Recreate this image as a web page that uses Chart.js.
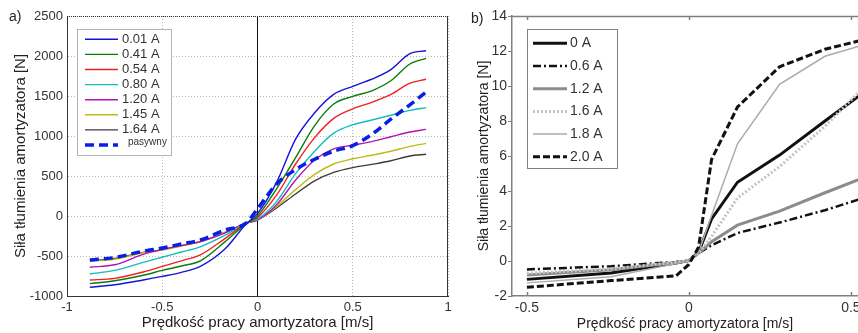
<!DOCTYPE html>
<html>
<head>
<meta charset="utf-8">
<script src="https://cdn.jsdelivr.net/npm/chart.js@4.4.1/dist/chart.umd.min.js"></script>
<style>
  html, body { margin: 0; padding: 0; background: #fff; overflow: hidden; }
  body { width: 858px; height: 333px; position: relative; }
  #boxA { position: absolute; left: 0; top: 0; width: 460px; height: 333px; }
  #boxB { position: absolute; left: 430px; top: 0; width: 440px; height: 333px; }
  .tag { position: absolute; font: 14px "Liberation Sans", Arial, sans-serif; color: #222; }
</style>
</head>
<body>
<div id="boxA"><canvas id="chartA"></canvas></div>
<div id="boxB"><canvas id="chartB"></canvas></div>
<div class="tag" style="left:9px; top:8px;">a)</div>
<div class="tag" style="left:471px; top:10px;">b)</div>
<script>
// ---- a) sila tlumienia, rozne prady ----
const xsA = [-0.88, -0.75, -0.6, -0.5, -0.4, -0.3, -0.17, -0.06, 0, 0.1, 0.2, 0.3, 0.4, 0.5, 0.6, 0.7, 0.8, 0.885]
const labelsA = ['0.01 A', '0.41 A', '0.54 A', '0.80 A', '1.20 A', '1.45 A', '1.64 A', 'pasywny']
const colorsA = ['#1414d8', '#0a7d0a', '#f02020', '#14bcbc', '#b414b4', '#bcbc14', '#3c3c3c', '#0a1ee6']
const i001 = [-890, -860, -800, -755, -705, -630, -410, -100, 30, 420, 960, 1290, 1520, 1620, 1710, 1830, 2030, 2065]
const i041 = [-845, -810, -740, -680, -625, -560, -320, -95, 0, 340, 730, 1130, 1400, 1495, 1565, 1690, 1900, 1970]
const i054 = [-800, -780, -700, -630, -560, -485, -280, -90, -20, 260, 650, 980, 1220, 1340, 1420, 1520, 1660, 1710]
const i080 = [-725, -680, -580, -515, -450, -385, -240, -90, -40, 180, 530, 810, 1035, 1140, 1200, 1260, 1320, 1355]
const i120 = [-640, -610, -480, -420, -370, -320, -210, -90, -50, 140, 450, 700, 840, 885, 930, 990, 1050, 1083]
const i145 = [-565, -540, -460, -425, -375, -320, -205, -90, -50, 120, 330, 520, 650, 715, 760, 810, 870, 908]
const i164 = [-560, -530, -455, -420, -370, -320, -205, -90, -50, 100, 275, 440, 545, 605, 645, 690, 750, 771]
const pasywny = [-550, -520, -440, -400, -350, -300, -175, -90, 90, 400, 580, 710, 810, 880, 1020, 1210, 1390, 1550]
const xTicksA = [-1, -0.5, 0, 0.5, 1]
const yTicksA = [-1000, -500, 0, 500, 1000, 1500, 2000, 2500]

// ---- b) ----
const xsB = [-0.5, -0.24, -0.04, 0, 0.03, 0.07, 0.15, 0.28, 0.42, 0.53]
const labelsB = ['0 A', '0.6 A', '1.2 A', '1.6 A', '1.8 A', '2.0 A']
const b00 = [-1.05, -0.68, -0.12, 0.02, 0.5, 2.4, 4.5, 6.05, 8.0, 9.5]
const b06 = [-0.48, -0.3, -0.05, 0.02, 0.45, 0.9, 1.6, 2.2, 2.9, 3.55]
const b12 = [-0.8, -0.5, -0.08, 0.02, 0.45, 1.1, 2.05, 2.85, 3.9, 4.7]
const b16 = [-0.7, -0.45, -0.07, 0.02, 0.45, 1.4, 3.6, 5.4, 7.7, 9.75]
const b18 = [-1.25, -0.9, -0.15, 0.02, 0.5, 2.6, 6.7, 10.1, 11.7, 12.3]
const b20 = [-1.5, -1.12, -0.85, -0.2, 0.8, 5.8, 8.8, 11.1, 12.1, 12.6]
const xTicksB = [-0.5, 0, 0.5]
const yTicksB = [-2, 0, 2, 4, 6, 8, 10, 12, 14]

const FONT = "'Liberation Sans', Arial, sans-serif"
Chart.defaults.font.family = FONT
Chart.defaults.animation = false

function pts(xs, ys) {
    return xs.map((x, i) => ({ x: x, y: ys[i] }))
}

// etykiety bez separatora tysiecy, jak w matlabie
const plain = v => String(v)

// legenda w ramce, rysowana na canvasie
const boxLegend = {
    id: 'boxLegend',
    afterDraw(chart, args, o) {
        const ctx = chart.ctx
        ctx.save()
        ctx.fillStyle = '#fff'
        ctx.fillRect(o.x, o.y, o.w, o.h)
        ctx.strokeStyle = o.border
        ctx.lineWidth = 1
        ctx.strokeRect(o.x + 0.5, o.y + 0.5, o.w, o.h)
        chart.data.datasets.forEach((ds, i) => {
            if (!ds.label) return
            const y = o.y + o.first + i * o.step
            ctx.setLineDash(ds.borderDash || [])
            ctx.strokeStyle = ds.borderColor
            ctx.lineWidth = ds.borderWidth
            ctx.beginPath()
            ctx.moveTo(o.x + o.line0, y)
            ctx.lineTo(o.x + o.line1, y)
            ctx.stroke()
            ctx.setLineDash([])
            ctx.fillStyle = o.color
            ctx.font = ds.legendFont || o.font
            ctx.textBaseline = 'middle'
            ctx.fillText(ds.label, o.x + (ds.legendDx || o.text), y + (ds.legendDy || 0))
        })
        ctx.restore()
    }
}

// gorna i prawa krawedz ramki + wewnetrzne znaczniki osi x
const frame = {
    id: 'frame',
    afterDatasetsDraw(chart, args, o) {
        const { ctx, chartArea: a } = chart
        ctx.save()
        ctx.lineWidth = o.width
        ctx.strokeStyle = o.color
        ctx.setLineDash(o.topDash || [])
        ctx.beginPath()
        ctx.moveTo(a.left, a.top + 0.5)
        ctx.lineTo(a.right, a.top + 0.5)
        ctx.stroke()
        ctx.setLineDash([])
        if (o.right) {
            ctx.beginPath()
            ctx.moveTo(a.right - 0.5, a.top)
            ctx.lineTo(a.right - 0.5, a.bottom)
            ctx.stroke()
        }
        if (o.innerTicks) {
            const x = chart.scales.x
            x.ticks.forEach(t => {
                const px = Math.round(x.getPixelForValue(t.value)) + 0.5
                ctx.beginPath()
                ctx.moveTo(px, a.bottom)
                ctx.lineTo(px, a.bottom - 4)
                ctx.moveTo(px, a.top)
                ctx.lineTo(px, a.top + 4)
                ctx.stroke()
            })
        }
        ctx.restore()
    }
}

const dsA = [i001, i041, i054, i080, i120, i145, i164].map((ys, i) => ({
    label: labelsA[i],
    data: pts(xsA, ys),
    borderColor: colorsA[i],
    borderWidth: 1.4,
    pointRadius: 0,
    cubicInterpolationMode: 'monotone'
}))
dsA.push({
    label: labelsA[7],
    data: pts(xsA, pasywny),
    borderColor: colorsA[7],
    borderWidth: 3.5,
    borderDash: [9, 5],
    pointRadius: 0,
    cubicInterpolationMode: 'monotone',
    order: -1,
    legendFont: '10px ' + FONT,
    legendDx: 51,
    legendDy: -3
})
// linia pionowa w zerze
dsA.push({
    data: [{ x: 0, y: -1000 }, { x: 0, y: 2500 }],
    borderColor: '#111',
    borderWidth: 1,
    pointRadius: 0,
    order: 10
})

new Chart(document.getElementById('chartA'), {
    type: 'line',
    data: { datasets: dsA },
    plugins: [frame, boxLegend],
    options: {
        responsive: true,
        maintainAspectRatio: false,
        devicePixelRatio: 1,
        layout: { padding: { left: 0, right: 12, top: 16, bottom: 0 } },
        plugins: {
            legend: { display: false },
            tooltip: { enabled: false },
            frame: { color: '#333', width: 1, topDash: [1, 1], right: true },
            boxLegend: {
                x: 77, y: 29, w: 94, h: 126, first: 10.3, step: 15.1,
                line0: 8, line1: 41, text: 45,
                border: '#b4b4b4', color: '#333', font: '13px ' + FONT
            }
        },
        scales: {
            x: {
                type: 'linear', min: -1, max: 1,
                afterBuildTicks: s => { s.ticks = xTicksA.map(v => ({ value: v })) },
                afterFit: s => { s.height = 37 },
                grid: { color: '#b8b8b8', lineWidth: 1, drawTicks: false },
                border: { color: '#333', dash: [1, 2] },
                ticks: { padding: 4, color: '#333', font: { size: 13 }, callback: plain },
                title: { display: true, text: 'Prędkość pracy amortyzatora [m/s]', color: '#222', font: { size: 15 }, padding: { top: 0, bottom: 1 } }
            },
            y: {
                min: -1000, max: 2500,
                afterBuildTicks: s => { s.ticks = yTicksA.map(v => ({ value: v })) },
                afterFit: s => { s.width = 67 },
                grid: { color: '#b8b8b8', lineWidth: 1, drawTicks: false },
                border: { color: '#333', dash: [1, 2] },
                ticks: { padding: 4, color: '#333', font: { size: 13 }, callback: plain },
                title: { display: true, text: 'Siła tłumienia amortyzatora [N]', color: '#222', font: { size: 15 }, padding: { top: 12, bottom: 0 } }
            }
        }
    }
})

const stylesB = [
    { borderColor: '#111', borderWidth: 3, borderDash: [] },
    { borderColor: '#111', borderWidth: 2.5, borderDash: [8, 3, 2, 3] },
    { borderColor: '#8c8c8c', borderWidth: 3, borderDash: [] },
    { borderColor: '#c4c4c4', borderWidth: 3, borderDash: [2, 2] },
    { borderColor: '#ababab', borderWidth: 1.5, borderDash: [] },
    { borderColor: '#111', borderWidth: 3, borderDash: [7, 3] }
]
const dsB = [b00, b06, b12, b16, b18, b20].map((ys, i) => Object.assign({
    label: labelsB[i],
    data: pts(xsB, ys),
    pointRadius: 0,
    tension: 0,
    order: 6 - i
}, stylesB[i]))

new Chart(document.getElementById('chartB'), {
    type: 'line',
    data: { datasets: dsB },
    plugins: [frame, boxLegend],
    options: {
        responsive: true,
        maintainAspectRatio: false,
        devicePixelRatio: 1,
        layout: { padding: { left: 0, right: 12, top: 16, bottom: 0 } },
        plugins: {
            legend: { display: false },
            tooltip: { enabled: false },
            frame: { color: '#808080', width: 1.5, right: false, innerTicks: true },
            boxLegend: {
                x: 97, y: 29, w: 90, h: 139, first: 14.3, step: 22.7,
                line0: 6, line1: 40, text: 43,
                border: '#808080', color: '#333', font: '14px ' + FONT
            }
        },
        scales: {
            x: {
                type: 'linear', min: -0.546, max: 0.522,
                afterBuildTicks: s => { s.ticks = xTicksB.map(v => ({ value: v })) },
                afterFit: s => { s.height = 37 },
                grid: { display: false, drawTicks: false },
                border: { color: '#808080', width: 1.5 },
                ticks: { padding: 4, color: '#333', font: { size: 14 }, callback: plain },
                title: { display: true, text: 'Prędkość pracy amortyzatora [m/s]', color: '#222', font: { size: 14 }, padding: { top: 0, bottom: 0 } }
            },
            y: {
                min: -2, max: 14,
                afterBuildTicks: s => { s.ticks = yTicksB.map(v => ({ value: v })) },
                afterFit: s => { s.width = 82 },
                grid: { drawOnChartArea: false, drawTicks: true, tickLength: 4, color: '#808080' },
                border: { color: '#808080', width: 1.5 },
                ticks: { padding: 1, color: '#333', font: { size: 14 }, callback: plain },
                title: { display: true, text: 'Siła tłumienia amortyzatora [N]', color: '#222', font: { size: 14 }, padding: { top: 46, bottom: 0 } }
            }
        }
    }
})
</script>
</body>
</html>
